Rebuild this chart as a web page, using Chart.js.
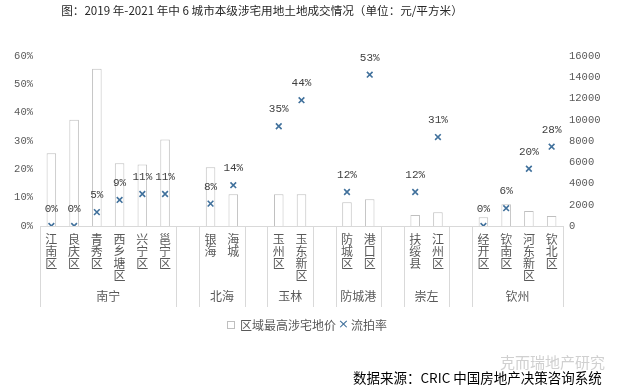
<!DOCTYPE html>
<html><head><meta charset="utf-8">
<script src="https://cdn.jsdelivr.net/npm/chart.js@4.4.1/dist/chart.umd.min.js"></script>
<style>
html,body{margin:0;padding:0;background:#fff;}
#wrap{position:relative;width:624px;height:392px;overflow:hidden;background:#fff;}
canvas{position:absolute;left:0;top:0;}
.t{position:absolute;white-space:nowrap;font-family:"Noto Sans CJK SC";}
</style></head><body>
<div id="wrap">
<canvas id="c" width="624" height="392"></canvas>
<div class="t" style="left:0;width:524px;top:4px;text-align:center;font-size:11.6px;line-height:12px;color:#262626;">图：2019 年-2021 年中 6 城市本级涉宅用地土地成交情况（单位：元/平方米）</div>
<div class="t" style="left:227px;top:321px;width:6px;height:6px;border:1px solid #bfbfbf;"></div>
<div class="t" style="left:240px;top:318px;font-size:12px;line-height:13px;color:#595959;">区域最高涉宅地价</div>
<div class="t" style="left:338px;top:317px;font-size:13px;line-height:14px;color:#41719c;font-family:'DejaVu Sans';">×</div>
<div class="t" style="left:351px;top:318px;font-size:12px;line-height:13px;color:#595959;">流拍率</div>
<div class="t" style="left:500px;top:354px;font-size:15px;line-height:16px;color:#d0d0d0;">克而瑞地产研究</div>
<div class="t" style="left:353px;top:369px;font-size:13.5px;line-height:16px;color:#000;">数据来源：CRIC 中国房地产决策咨询系统</div>
</div>
<script>
const categoryNames = ['江南区','良庆区','青秀区','西乡塘区','兴宁区','邕宁区','','银海','海城','','玉州区','玉东新区','','防城区','港口区','','扶绥县','江州区','','经开区','钦南区','河东新区','钦北区'];
const groupNames = ['南宁','','北海','','玉林','','防城港','','崇左','','钦州'];
const groupSizes = [6,1,2,1,2,1,2,1,2,1,4];
const priceValues = [6850,10000,14800,5900,5800,8150,null,5520,3000,null,3000,3000,null,2230,2510,null,1040,1290,null,820,2040,1410,940];
const rateValues = [0,0,4.9,9.2,11.3,11.3,null,7.9,14.4,null,35.2,44.4,null,12,53.4,null,12,31.4,null,0,6.3,20.2,28];
const rateTicks = {min:0,max:60,step:10};
const priceTicks = {min:0,max:16000,step:2000};

const labels = categoryNames.map(n => n ? n.split('') : '');

const groupPlugin = {
  id:'groups',
  afterDraw(chart){
    const x = chart.scales.x, ctx = chart.ctx;
    const slot = x.getPixelForValue(1) - x.getPixelForValue(0);
    ctx.save();
    ctx.strokeStyle = '#d9d9d9'; ctx.lineWidth = 1;
    let idx = 0;
    const edge = i => x.getPixelForValue(i) - slot/2;
    const drawLine = px => { const p = Math.round(px)+0.5; ctx.beginPath(); ctx.moveTo(p, x.top); ctx.lineTo(p, x.bottom); ctx.stroke(); };
    drawLine(edge(0));
    ctx.fillStyle = '#595959'; ctx.font = '12px "Noto Sans CJK SC"'; ctx.textAlign='center'; ctx.textBaseline='middle';
    groupSizes.forEach((s, g) => {
      const a = edge(idx), b = edge(idx+s);
      drawLine(b);
      if (groupNames[g]) ctx.fillText(groupNames[g], (a+b)/2, x.bottom - 11);
      idx += s;
    });
    ctx.restore();
  }
};
const labelPlugin = {
  id:'ptlabels',
  afterDatasetsDraw(chart){
    const meta = chart.getDatasetMeta(0), ctx = chart.ctx;
    ctx.save();
    ctx.fillStyle = '#404040'; ctx.font = '11px "Liberation Mono"'; ctx.textAlign='center'; ctx.textBaseline='middle';
    meta.data.forEach((pt, i) => {
      const v = rateValues[i];
      if (v === null) return;
      ctx.fillText(Math.round(v) + '%', pt.x, pt.y - 17);
    });
    ctx.restore();
  }
};

new Chart(document.getElementById('c'), {
  data: {
    labels,
    datasets: [
      {type:'line', label:'流拍率', data: rateValues, yAxisID:'y', showLine:false,
       pointStyle:'crossRot', pointRadius:4, pointHoverRadius:4, borderColor:'#41719c', backgroundColor:'#41719c', pointBorderWidth:1.6},
      {type:'bar', label:'区域最高涉宅地价', data: priceValues, yAxisID:'y1', backgroundColor:'#ffffff',
       borderColor:'#bfbfbf', borderWidth:1, categoryPercentage:1, barPercentage:0.42}
    ]
  },
  options: {
    responsive:false, animation:false,
    layout:{padding:{top:56,left:0,right:0,bottom:85}},
    plugins:{legend:{display:false}, tooltip:{enabled:false}},
    scales:{
      x:{type:'category', offset:true, grid:{display:false, drawTicks:false},
         border:{display:true, color:'#d9d9d9', width:1},
         ticks:{autoSkip:false, maxRotation:0, minRotation:0, padding:7, color:'#595959',
                font:{family:'Noto Sans CJK SC', size:12, lineHeight:1}},
         afterFit(s){ s.height = 81; }},
      y:{position:'left', min:rateTicks.min, max:rateTicks.max, grid:{display:false, drawTicks:false}, border:{display:false},
         ticks:{stepSize:rateTicks.step, padding:7, color:'#595959', font:{family:'Liberation Mono', size:10.5},
                callback:v => v + '%'},
         afterFit(s){ s.width = 40; }},
      y1:{position:'right', min:priceTicks.min, max:priceTicks.max, grid:{display:false, drawTicks:false}, border:{display:false},
          ticks:{stepSize:priceTicks.step, padding:6, color:'#595959', font:{family:'Liberation Mono', size:10.5},
                 callback:v => String(v)},
          afterFit(s){ s.width = 61; }}
    }
  },
  plugins:[groupPlugin, labelPlugin]
});
</script>
</body></html>
